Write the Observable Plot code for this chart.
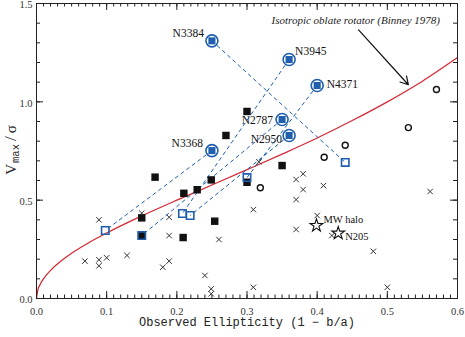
<!DOCTYPE html>
<html><head><meta charset="utf-8">
<script src="https://cdn.jsdelivr.net/npm/d3@7"></script>
<script src="https://cdn.jsdelivr.net/npm/@observablehq/plot@0.6"></script>
<style>body{margin:0;background:#fff}</style>
</head><body><div id="chart"></div>
<script>
// ---- data ----
const galaxyNames = ["N3384","N3945","N4371","N2787","N2950","N3368"];
const galaxyEps   = [0.25, 0.36, 0.40, 0.35, 0.36, 0.25];
const galaxyV     = [1.31, 1.215, 1.083, 0.91, 0.829, 0.752];
const modelEps    = [0.44, 0.208, 0.30, 0.15, 0.219, 0.098];
const modelV      = [0.692, 0.432, 0.615, 0.32, 0.422, 0.346];

const squareEps = [0.169,0.15,0.15,0.21,0.229,0.249,0.254,0.209,0.30,0.35,0.30,0.27];
const squareV   = [0.617,0.41,0.32,0.535,0.553,0.603,0.393,0.31,0.591,0.676,0.951,0.829];

const circleEps = [0.57,0.53,0.44,0.41,0.319];
const circleV   = [1.063,0.869,0.779,0.718,0.563];

const crossEps = [0.089,0.069,0.089,0.089,0.10,0.129,0.15,0.189,0.189,0.189,0.18,0.24,0.249,0.249,0.26,0.309,0.309,0.37,0.38,0.38,0.37,0.37,0.317,0.409,0.40,0.421,0.48,0.50,0.561];
const crossV   = [0.40,0.19,0.197,0.166,0.207,0.219,0.434,0.413,0.32,0.19,0.159,0.117,0.049,0.024,0.30,0.452,0.057,0.605,0.634,0.554,0.503,0.351,0.695,0.574,0.422,0.32,0.24,0.057,0.544];

const starNames = ["MW halo","N205"];
const starEps   = [0.399, 0.43];
const starV     = [0.371, 0.332];

const curveEps = [0,0.002,0.005,0.01,0.02,0.03,0.05,0.075,0.1,0.15,0.2,0.25,0.3,0.35,0.4,0.45,0.5,0.55,0.6];
const curveV   = [0,0.045,0.07,0.10,0.143,0.176,0.23,0.285,0.333,0.42,0.50,0.577,0.655,0.734,0.816,0.905,1.0,1.105,1.225];

const noteText = ["Isotropic oblate rotator (Binney 1978)"];
const noteEps = [0.575], noteV = [1.413];
const arrowFrom = [0.459, 1.366], arrowTo = [0.530, 1.087];

const xMajor = [0,0.1,0.2,0.3,0.4,0.5,0.6];
const yMajor = [0,0.5,1.0,1.5];
const xMinor = d3.range(0, 0.6001, 0.01);
const yMinor = d3.range(0, 1.5001, 0.1);

// ---- label placement (style only) ----
const labelPlace = {
  N3384: {dx:-8, dy:-7.5, anchor:"end"},
  N3945: {dx:6,  dy:-8,   anchor:"start"},
  N4371: {dx:9.5,dy:-1,   anchor:"start"},
  N2787: {dx:-9, dy:0.5,  anchor:"end"},
  N2950: {dx:-7, dy:3.5,  anchor:"end"},
  N3368: {dx:-9, dy:-7.5, anchor:"end"}
};
const starPlace = {"MW halo": {dx:7, dy:-6}, "N205": {dx:7, dy:3.5}};

// ---- build tables ----
const galaxies = galaxyNames.map((n,i)=>({name:n, x:galaxyEps[i], y:galaxyV[i], mx:modelEps[i], my:modelV[i]}));
const squares = squareEps.map((x,i)=>({x, y:squareV[i]}));
const circles = circleEps.map((x,i)=>({x, y:circleV[i]}));
const crosses = crossEps.map((x,i)=>({x, y:crossV[i]}));
const stars = starNames.map((n,i)=>({name:n, x:starEps[i], y:starV[i]}));
const curve = curveEps.map((x,i)=>({x, y:curveV[i]}));

const BLUE = "#1f5fad", RED = "#d42a35";
const W = 465, H = 337, mL = 36, mR = 8, mT = 3, mB = 39;
const pw = W - mL - mR, ph = H - mT - mB;

const galaxyLabels = galaxies.map(d => Plot.text([d], {x:"x", y:"y", text:"name",
  textAnchor: labelPlace[d.name].anchor, dx: labelPlace[d.name].dx, dy: labelPlace[d.name].dy,
  fontSize: 11.5, fill:"#111"}));
const starLabels = stars.map(d => Plot.text([d], {x:"x", y:"y", text:"name", textAnchor:"start",
  dx: starPlace[d.name].dx, dy: starPlace[d.name].dy, fontSize: 10.5, fill:"#111"}));

const plot = Plot.plot({
  width: W, height: H,
  marginLeft: mL, marginRight: mR, marginTop: mT, marginBottom: mB,
  x: {domain: [0, 0.6]},
  y: {domain: [0, 1.5]},
  style: {fontFamily: "Liberation Serif", fontSize: "11px", color: "#222", background: "#fff", overflow: "visible"},
  marks: [
    Plot.line(curve, {x:"x", y:"y", stroke: RED, strokeWidth: 1.3, curve: "monotone-x"}),
    Plot.link(galaxies, {x1:"x", y1:"y", x2:"mx", y2:"my", stroke: BLUE, strokeWidth: 1, strokeDasharray: "4,3"}),
    Plot.dot(crosses, {x:"x", y:"y", symbol:"times", r: 2.6, stroke:"#333", strokeWidth: 1}),
    Plot.dot(circles, {x:"x", y:"y", r: 3, stroke:"#111", strokeWidth: 1.4, fill:"none"}),
    Plot.dot(squares, {x:"x", y:"y", symbol:"square", r: 4.2, fill:"#111", stroke:"none"}),
    Plot.dot(galaxies, {x:"mx", y:"my", symbol:"square", r: 4.2, stroke: BLUE, strokeWidth: 1.6, fill:"none"}),
    Plot.dot(galaxies, {x:"x", y:"y", r: 6, stroke: BLUE, strokeWidth: 1.6, fill:"#fff"}),
    Plot.dot(galaxies, {x:"x", y:"y", symbol:"square", r: 4.0, fill: BLUE, stroke:"none"}),
    Plot.dot(stars, {x:"x", y:"y", symbol:"star", r: 4, stroke:"#111", strokeWidth: 1.1, fill:"none"}),
    ...galaxyLabels,
    ...starLabels,
    Plot.arrow([0], {x1: ()=>arrowFrom[0], y1: ()=>arrowFrom[1], x2: ()=>arrowTo[0], y2: ()=>arrowTo[1], stroke:"#111", strokeWidth: 1.2, headLength: 11}),
    Plot.text(noteText, {x: ()=>noteEps[0], y: ()=>noteV[0], text: d=>d, textAnchor:"end", fontStyle:"italic", fontSize: 11, fill:"#222"}),
    // ticks on all four sides (inward)
    Plot.ruleX(xMajor, {stroke:"#222", insetTop: ph - 7}),
    Plot.ruleX(xMajor, {stroke:"#222", insetBottom: ph - 7}),
    Plot.ruleX(xMinor, {stroke:"#222", insetTop: ph - 3.5}),
    Plot.ruleX(xMinor, {stroke:"#222", insetBottom: ph - 3.5}),
    Plot.ruleY(yMajor, {stroke:"#222", insetRight: pw - 7}),
    Plot.ruleY(yMajor, {stroke:"#222", insetLeft: pw - 7}),
    Plot.ruleY(yMinor, {stroke:"#222", insetRight: pw - 4}),
    Plot.ruleY(yMinor, {stroke:"#222", insetLeft: pw - 4}),
    Plot.frame({stroke:"#222", strokeWidth: 1}),
    Plot.axisX(xMajor, {tickSize: 0, tickPadding: 9, tickFormat: d3.format(".1f"), label: null, fontSize: 10.5, fill:"#333"}),
    Plot.axisY(yMajor, {tickSize: 0, tickPadding: 4, dy: 1.5, tickFormat: d3.format(".1f"), label: null, fontSize: 10.5, fill:"#333"}),
    Plot.text(["Observed Ellipticity (1 \u2212 b/a)"], {frameAnchor:"bottom", text: d=>d, dy: 27, fontFamily:"Liberation Mono", fontSize: 12, fill:"#222"})
  ]
});
document.getElementById("chart").appendChild(plot);

// y-axis label with subscript
const svg = d3.select(plot);
const t = svg.append("text")
  .attr("transform", `translate(15.5,150) rotate(-90)`)
  .attr("text-anchor", "middle")
  .attr("font-family", "Liberation Serif")
  .attr("fill", "#222");
t.append("tspan").attr("font-size", 15).text("V");
t.append("tspan").attr("font-size", 10.5).attr("font-family","Liberation Mono").attr("dx", 1).attr("dy", 3.5).text("max");
t.append("tspan").attr("font-size", 17).attr("dy", -3.5).attr("dx", 3).text("/");
t.append("tspan").attr("font-size", 15).attr("dx", 3).text("\u03c3");
</script>
</body></html>
